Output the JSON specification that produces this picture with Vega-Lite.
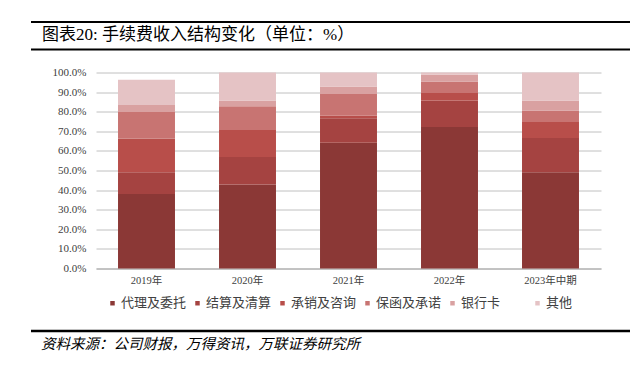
{
  "$schema": "https://vega.github.io/schema/vega-lite/v6.json",
  "background": "white",
  "padding": {"left": 29, "top": 21, "right": 0, "bottom": 0},
  "spacing": 15.5,
  "config": {
    "view": {"stroke": null},
    "font": "Liberation Serif, Noto Sans CJK SC",
    "axis": {"labelFont": "Liberation Serif, Noto Sans CJK SC", "labelColor": "#404040"},
    "legend": {"labelFont": "Noto Sans CJK SC", "labelColor": "#404040"}
  },
  "vconcat": [
    {
      "width": 599,
      "height": 27.5,
      "title": {
        "text": "图表20: 手续费收入结构变化（单位：%）",
        "orient": "top",
        "anchor": "start",
        "frame": "group",
        "baseline": "middle",
        "offset": -31,
        "dx": 11,
        "fontSize": 17,
        "fontWeight": "normal",
        "font": "Liberation Serif, Noto Sans CJK SC",
        "color": "#000000"
      },
      "data": {"values": [{"line": "top", "edge": 1}, {"line": "bottom", "edge": 0}]},
      "mark": {"type": "rule", "color": "#000000", "strokeWidth": 2},
      "encoding": {
        "y": {"field": "edge", "type": "quantitative", "scale": {"domain": [0, 1]}, "axis": null}
      }
    },
    {
      "spacing": 0,
      "hconcat": [
        {
          "width": 21,
          "height": 196,
          "data": {"values": [{"line": "spacer", "edge": 0}]},
          "mark": {"type": "rule", "opacity": 0},
          "encoding": {
            "y": {"field": "edge", "type": "quantitative", "scale": {"domain": [0, 1]}, "axis": null}
          }
        },
        {
          "width": 505,
          "height": 196,
          "data": {
            "values": [
              {"period": "2019年", "cat": "代理及委托", "seq": 1, "value": 38.0},
              {"period": "2019年", "cat": "结算及清算", "seq": 2, "value": 11.1},
              {"period": "2019年", "cat": "承销及咨询", "seq": 3, "value": 17.2},
              {"period": "2019年", "cat": "保函及承诺", "seq": 4, "value": 13.5},
              {"period": "2019年", "cat": "银行卡", "seq": 5, "value": 3.6},
              {"period": "2019年", "cat": "其他", "seq": 6, "value": 12.9},
              {"period": "2020年", "cat": "代理及委托", "seq": 1, "value": 42.9},
              {"period": "2020年", "cat": "结算及清算", "seq": 2, "value": 14.0},
              {"period": "2020年", "cat": "承销及咨询", "seq": 3, "value": 13.8},
              {"period": "2020年", "cat": "保函及承诺", "seq": 4, "value": 12.1},
              {"period": "2020年", "cat": "银行卡", "seq": 5, "value": 2.9},
              {"period": "2020年", "cat": "其他", "seq": 6, "value": 14.3},
              {"period": "2021年", "cat": "代理及委托", "seq": 1, "value": 64.2},
              {"period": "2021年", "cat": "结算及清算", "seq": 2, "value": 12.5},
              {"period": "2021年", "cat": "承销及咨询", "seq": 3, "value": 1.2},
              {"period": "2021年", "cat": "保函及承诺", "seq": 4, "value": 11.1},
              {"period": "2021年", "cat": "银行卡", "seq": 5, "value": 3.8},
              {"period": "2021年", "cat": "其他", "seq": 6, "value": 7.2},
              {"period": "2022年", "cat": "代理及委托", "seq": 1, "value": 72.2},
              {"period": "2022年", "cat": "结算及清算", "seq": 2, "value": 13.5},
              {"period": "2022年", "cat": "承销及咨询", "seq": 3, "value": 3.9},
              {"period": "2022年", "cat": "保函及承诺", "seq": 4, "value": 5.8},
              {"period": "2022年", "cat": "银行卡", "seq": 5, "value": 3.4},
              {"period": "2022年", "cat": "其他", "seq": 6, "value": 1.2},
              {"period": "2023年中期", "cat": "代理及委托", "seq": 1, "value": 49.1},
              {"period": "2023年中期", "cat": "结算及清算", "seq": 2, "value": 17.5},
              {"period": "2023年中期", "cat": "承销及咨询", "seq": 3, "value": 8.2},
              {"period": "2023年中期", "cat": "保函及承诺", "seq": 4, "value": 5.8},
              {"period": "2023年中期", "cat": "银行卡", "seq": 5, "value": 5.1},
              {"period": "2023年中期", "cat": "其他", "seq": 6, "value": 14.3}
            ]
          },
          "mark": {"type": "bar"},
          "encoding": {
            "x": {
              "field": "period",
              "type": "nominal",
              "sort": ["2019年", "2020年", "2021年", "2022年", "2023年中期"],
              "scale": {"paddingInner": 0.436, "paddingOuter": 0.218},
              "axis": {
                "title": null,
                "labelAngle": 0,
                "ticks": false,
                "domain": true,
                "domainColor": "#A6A6A6",
                "domainWidth": 1,
                "labelPadding": 7,
                "labelFontSize": 10.5,
                "grid": false,
                "minExtent": 45
              }
            },
            "y": {
              "field": "value",
              "type": "quantitative",
              "stack": "zero",
              "scale": {"domain": [0, 100]},
              "axis": {
                "title": null,
                "values": [0, 10, 20, 30, 40, 50, 60, 70, 80, 90, 100],
                "labelExpr": "format(datum.value, '.1f') + '%'",
                "domain": false,
                "ticks": false,
                "grid": true,
                "gridColor": "#C0C0C0",
                "gridWidth": 1,
                "labelPadding": 10,
                "labelFontSize": 11
              }
            },
            "color": {
              "field": "cat",
              "type": "nominal",
              "sort": ["代理及委托", "结算及清算", "承销及咨询", "保函及承诺", "银行卡", "其他"],
              "scale": {
                "domain": ["代理及委托", "结算及清算", "承销及咨询", "保函及承诺", "银行卡", "其他"],
                "range": ["#8B3836", "#A54341", "#B84E4A", "#C87472", "#D9A1A1", "#E5C3C5"]
              },
              "legend": {
                "title": null,
                "orient": "none",
                "direction": "horizontal",
                "legendX": 75,
                "legendY": 274.5,
                "symbolType": "square",
                "symbolSize": 20,
                "symbolStrokeWidth": 0,
                "labelFontSize": 13,
                "labelOffset": 2,
                "columnPadding": 4,
                "gridAlign": "all",
                "padding": 0
              }
            },
            "order": {"field": "seq", "type": "quantitative", "sort": "ascending"}
          }
        }
      ]
    },
    {
      "width": 599,
      "height": 30,
      "title": {
        "text": "资料来源：公司财报，万得资讯，万联证券研究所",
        "orient": "top",
        "anchor": "start",
        "frame": "group",
        "baseline": "middle",
        "offset": -30,
        "dx": 10,
        "fontSize": 14.5,
        "fontStyle": "italic",
        "fontWeight": "normal",
        "font": "Noto Sans CJK SC",
        "color": "#000000"
      },
      "data": {"values": [{"line": "footer", "edge": 1}]},
      "mark": {"type": "rule", "color": "#000000", "strokeWidth": 2.5},
      "encoding": {
        "y": {"field": "edge", "type": "quantitative", "scale": {"domain": [0, 1]}, "axis": null}
      }
    }
  ]
}
